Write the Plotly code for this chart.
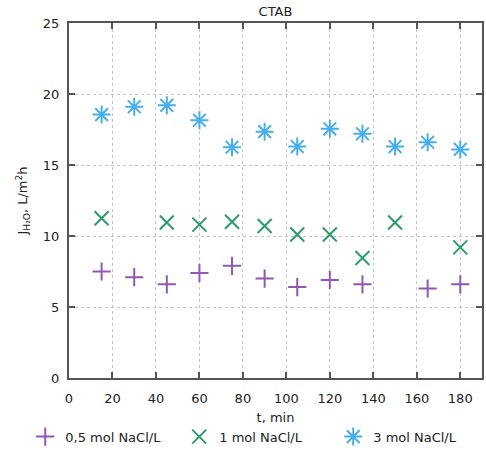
import plotly.graph_objects as go

t = [15, 30, 45, 60, 75, 90, 105, 120, 135, 150, 165, 180]
s05 = [7.5, 7.1, 6.6, 7.4, 7.9, 7.0, 6.4, 6.9, 6.6, None, 6.3, 6.6]
s1 = [11.25, None, 10.95, 10.8, 11.0, 10.7, 10.1, 10.1, 8.45, 10.95, None, 9.2]
s3 = [18.55, 19.1, 19.2, 18.15, 16.25, 17.35, 16.3, 17.55, 17.2, 16.3, 16.6, 16.1]

names = ["0,5 mol NaCl/L", "1 mol NaCl/L", "3 mol NaCl/L"]
colors = ["#8f58b5", "#2e9c68", "#48afea"]
symbols = ["cross-thin", "x-thin", "asterisk"]
sizes = [13, 14, 15]

fig = go.Figure()
for ys, nm, c, sym, sz in zip([s05, s1, s3], names, colors, symbols, sizes):
    fig.add_trace(go.Scatter(
        x=t, y=ys, mode="markers", name=nm,
        marker=dict(symbol=sym, size=sz, color=c, line=dict(color=c, width=2)),
    ))

axis_common = dict(
    showline=True, linecolor="#555", linewidth=2, mirror="ticks",
    ticks="inside", ticklen=6, tickwidth=2, tickcolor="#555",
    showgrid=True, gridcolor="#c4c4c4", griddash="dot", gridwidth=1,
    zeroline=False, tickfont=dict(size=13, color="#222"), automargin=False,
)

fig.update_layout(
    width=486, height=459,
    margin=dict(l=69, r=4, t=23, b=81, autoexpand=False),
    plot_bgcolor="white", paper_bgcolor="white",
    font=dict(family="DejaVu Sans", size=13, color="#222"),
    title=dict(text="CTAB", x=0.5, xanchor="center", xref="paper", y=0.976, yanchor="middle",
               font=dict(size=13, color="#222"), automargin=False),
    xaxis=dict(range=[0, 190], tickvals=[0, 20, 40, 60, 80, 100, 120, 140, 160, 180],
               ticklabelstandoff=7,
               title=dict(text="t, min", standoff=8, font=dict(size=13)), **axis_common),
    yaxis=dict(range=[0, 25], tickvals=[0, 5, 10, 15, 20, 25],
               ticklabelstandoff=5,
               title=dict(text="J<sub>H₂O</sub>, L/m<sup>2</sup>h", standoff=12, font=dict(size=13)), **axis_common),
    legend=dict(orientation="h", x=-0.106, xanchor="left", y=-0.123, yanchor="top",
                font=dict(size=13), itemwidth=30, entrywidth=109, entrywidthmode="pixels",
                tracegroupgap=0),
    showlegend=True,
)

fig.write_html("out.html", config={"displayModeBar": False},
               post_script="document.body.style.margin='0px';")
